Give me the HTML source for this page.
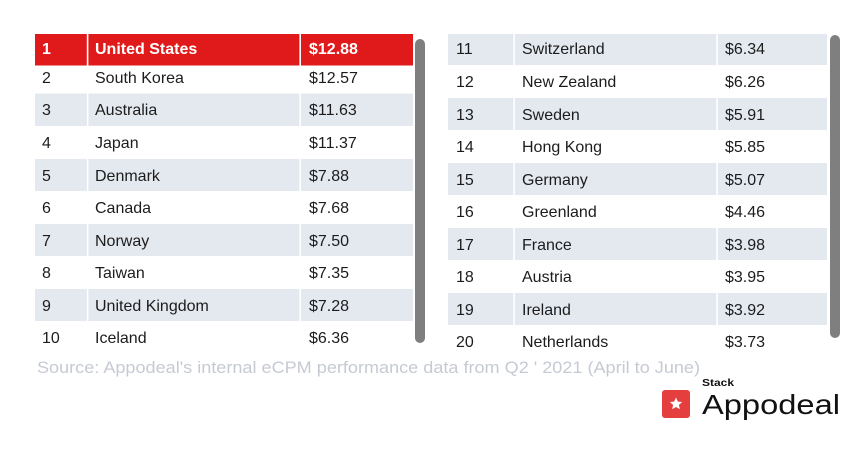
<!DOCTYPE html>
<html><head><meta charset="utf-8"><style>
html,body{margin:0;padding:0;background:#fff;width:865px;height:449px;overflow:hidden}
svg{display:block}
text{font-family:"Liberation Sans",sans-serif}
.t{font-size:16px;fill:#1c1c1c}
.h{font-size:16px;fill:#fff;font-weight:bold}
</style></head><body>
<svg width="865" height="449" viewBox="0 0 865 449" xmlns="http://www.w3.org/2000/svg">
<!-- Left table -->
<rect x="35" y="34" width="378" height="31.5" fill="#e01a1a"/>
<g fill="#e4e8ef">
<rect x="35" y="93.5" width="378" height="32.5"/>
<rect x="35" y="159" width="378" height="32"/>
<rect x="35" y="224" width="378" height="32"/>
<rect x="35" y="289" width="378" height="32"/>
</g>
<g fill="#fff">
<rect x="86.8" y="34" width="1.6" height="290"/>
<rect x="299.4" y="34" width="1.6" height="290"/>
</g>
<text class="h" x="42" y="54">1</text>
<text class="h" x="95" y="54">United States</text>
<text class="h" x="309" y="54">$12.88</text>
<g class="t">
<text class="t" x="42" y="83">2</text><text class="t" x="95" y="83">South Korea</text><text class="t" x="309" y="83">$12.57</text>
<text class="t" x="42" y="115">3</text><text class="t" x="95" y="115">Australia</text><text class="t" x="309" y="115">$11.63</text>
<text class="t" x="42" y="148">4</text><text class="t" x="95" y="148">Japan</text><text class="t" x="309" y="148">$11.37</text>
<text class="t" x="42" y="181">5</text><text class="t" x="95" y="181">Denmark</text><text class="t" x="309" y="181">$7.88</text>
<text class="t" x="42" y="213">6</text><text class="t" x="95" y="213">Canada</text><text class="t" x="309" y="213">$7.68</text>
<text class="t" x="42" y="246">7</text><text class="t" x="95" y="246">Norway</text><text class="t" x="309" y="246">$7.50</text>
<text class="t" x="42" y="278">8</text><text class="t" x="95" y="278">Taiwan</text><text class="t" x="309" y="278">$7.35</text>
<text class="t" x="42" y="311">9</text><text class="t" x="95" y="311">United Kingdom</text><text class="t" x="309" y="311">$7.28</text>
<text class="t" x="42" y="343">10</text><text class="t" x="95" y="343">Iceland</text><text class="t" x="309" y="343">$6.36</text>
</g>
<rect x="415" y="39" width="10" height="304" rx="5" fill="#7f7f7f"/>

<!-- Right table -->
<g fill="#e4e8ef">
<rect x="448" y="34" width="379" height="31"/>
<rect x="448" y="98" width="379" height="32"/>
<rect x="448" y="163" width="379" height="32"/>
<rect x="448" y="228" width="379" height="32"/>
<rect x="448" y="293" width="379" height="32"/>
</g>
<g fill="#fff">
<rect x="513.3" y="34" width="1.6" height="292"/>
<rect x="716.3" y="34" width="1.6" height="292"/>
</g>
<g>
<text class="t" x="456" y="54">11</text><text class="t" x="522" y="54">Switzerland</text><text class="t" x="725" y="54">$6.34</text>
<text class="t" x="456" y="87">12</text><text class="t" x="522" y="87">New Zealand</text><text class="t" x="725" y="87">$6.26</text>
<text class="t" x="456" y="120">13</text><text class="t" x="522" y="120">Sweden</text><text class="t" x="725" y="120">$5.91</text>
<text class="t" x="456" y="152">14</text><text class="t" x="522" y="152">Hong Kong</text><text class="t" x="725" y="152">$5.85</text>
<text class="t" x="456" y="185">15</text><text class="t" x="522" y="185">Germany</text><text class="t" x="725" y="185">$5.07</text>
<text class="t" x="456" y="217">16</text><text class="t" x="522" y="217">Greenland</text><text class="t" x="725" y="217">$4.46</text>
<text class="t" x="456" y="250">17</text><text class="t" x="522" y="250">France</text><text class="t" x="725" y="250">$3.98</text>
<text class="t" x="456" y="282">18</text><text class="t" x="522" y="282">Austria</text><text class="t" x="725" y="282">$3.95</text>
<text class="t" x="456" y="315">19</text><text class="t" x="522" y="315">Ireland</text><text class="t" x="725" y="315">$3.92</text>
<text class="t" x="456" y="347">20</text><text class="t" x="522" y="347">Netherlands</text><text class="t" x="725" y="347">$3.73</text>
</g>
<rect x="830" y="35" width="10" height="303" rx="5" fill="#7f7f7f"/>

<!-- Source -->
<text x="37" y="373" font-size="17" fill="#c6cad3" textLength="663" lengthAdjust="spacingAndGlyphs">Source: Appodeal's internal eCPM performance data from Q2 ' 2021 (April to June)</text>

<!-- Logo -->
<rect x="662" y="390" width="28" height="28" rx="3" fill="#e53e3e"/>
<polygon fill="#fff" points="676,397.5 677.9,401.6 682.2,402 678.9,404.9 679.9,409.2 676,407 672.1,409.2 673.1,404.9 669.8,402 674.1,401.6"/>
<text x="702" y="386" font-size="10" font-weight="bold" fill="#111" textLength="32" lengthAdjust="spacingAndGlyphs">Stack</text>
<text x="702" y="414" font-size="28" fill="#111" textLength="138" lengthAdjust="spacingAndGlyphs">Appodeal</text>
</svg>
</body></html>
